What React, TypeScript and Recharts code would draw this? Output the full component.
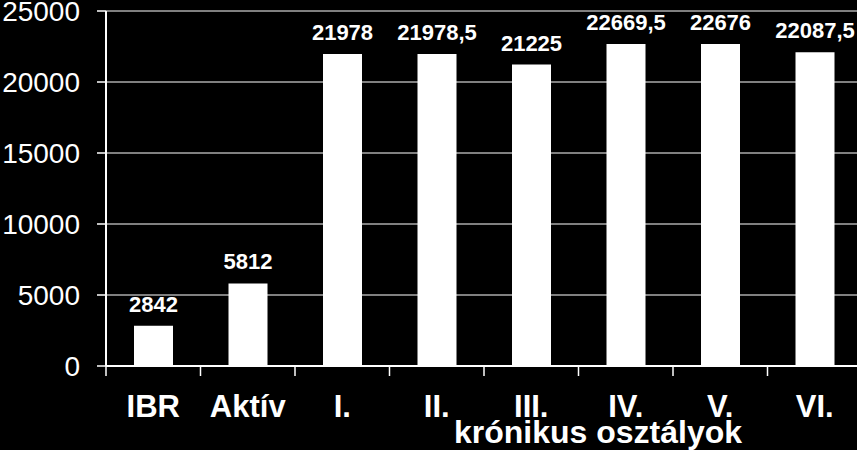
import { BarChart, Bar, XAxis, YAxis, CartesianGrid, LabelList } from "recharts";

const categories = ["IBR", "Aktív", "I.", "II.", "III.", "IV.", "V.", "VI."];
const values = [2842, 5812, 21978, 21978.5, 21225, 22669.5, 22676, 22087.5];
const yTicks = [0, 5000, 10000, 15000, 20000, 25000];
const groupLabel = "krónikus osztályok";

const data = categories.map((name, i) => ({ name, value: values[i] }));

const FONT = "'Liberation Sans', Arial, sans-serif";
const CHART_W = 862;
const Y_AXIS_W = 106;
const BAND = (CHART_W - Y_AXIS_W) / categories.length;

// category label plus a tick mark on the left boundary of each band
function CategoryTick(props: any) {
  const { x, y, payload } = props;
  return (
    <g>
      <line x1={x - BAND / 2} x2={x - BAND / 2} y1={y - 10} y2={y} stroke="#fff" strokeWidth={1.5} />
      <text x={x} y={y + 41} textAnchor="middle" fill="#fff" fontSize={31} fontWeight="bold" fontFamily={FONT}>
        {payload.value}
      </text>
    </g>
  );
}

export default function App() {
  return (
    <div
      style={{
        position: "absolute",
        left: 0,
        top: 0,
        width: 857,
        height: 450,
        overflow: "hidden",
        background: "#000",
      }}
    >
      <BarChart
        width={CHART_W}
        height={450}
        data={data}
        margin={{ top: 11, right: 0, bottom: 0, left: 0 }}
        barCategoryGap={0}
      >
        <CartesianGrid vertical={false} stroke="#fff" strokeWidth={1} />
        <XAxis
          dataKey="name"
          height={84}
          tick={<CategoryTick />}
          tickLine={false}
          tickSize={10}
          tickMargin={0}
          axisLine={{ stroke: "#fff", strokeWidth: 2 }}
          interval={0}
          label={{
            value: groupLabel,
            position: "insideBottom",
            offset: 7,
            dx: 114,
            fill: "#fff",
            fontSize: 32,
            fontWeight: "bold",
            fontFamily: FONT,
          }}
        />
        <YAxis
          width={Y_AXIS_W}
          domain={[0, 25000]}
          ticks={yTicks}
          interval={0}
          tickSize={9}
          tickMargin={17}
          tick={{ fill: "#fff", fontSize: 28, fontFamily: FONT }}
          tickLine={{ stroke: "#fff", strokeWidth: 1.5 }}
          axisLine={{ stroke: "#fff", strokeWidth: 2 }}
        />
        <Bar dataKey="value" fill="#fff" barSize={39} isAnimationActive={false}>
          <LabelList
            dataKey="value"
            position="top"
            offset={14}
            fill="#fff"
            fontSize={22}
            fontWeight="bold"
            fontFamily={FONT}
            formatter={(v: any) => String(v).replace(".", ",")}
          />
        </Bar>
      </BarChart>
    </div>
  );
}
